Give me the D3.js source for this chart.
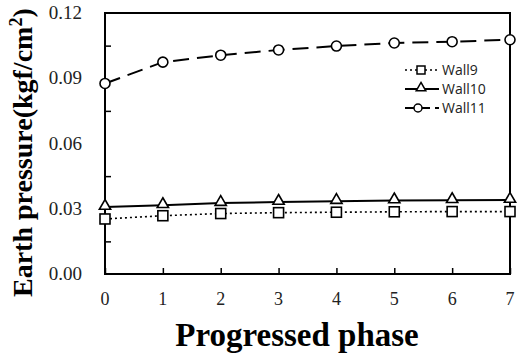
<!DOCTYPE html>
<html lang="en">
<head>
<meta charset="UTF-8">
<title>Earth pressure</title>
<style>
  body { margin: 0; background: #fff; }
  svg { display: block; }
</style>
</head>
<body>
<svg width="523" height="353"></svg>
<script src="https://d3js.org/d3.v7.min.js"></script>
<script>

let phases = [0, 1, 2, 3, 4, 5, 6, 7];
let wall9 = [0.0253, 0.0268, 0.0278, 0.0282, 0.0284, 0.0286, 0.0287, 0.0287];
let wall10 = [0.0308, 0.0316, 0.0326, 0.0331, 0.0335, 0.0338, 0.0339, 0.0340];
let wall11 = [0.0876, 0.0974, 0.1006, 0.1030, 0.1048, 0.1062, 0.1068, 0.1077];
let yTicks = [0, 0.03, 0.06, 0.09, 0.12];

let series = [
    {name: "Wall9", values: wall9, marker: "square", dash: "2,3"},
    {name: "Wall10", values: wall10, marker: "triangle", dash: null},
    {name: "Wall11", values: wall11, marker: "circle", dash: "16,8"}
];

let margin = {top: 13, right: 13, bottom: 79, left: 105},
    width = 523 - margin.left - margin.right,
    height = 353 - margin.top - margin.bottom;

let svg = d3.select("svg");
let chart = svg.append("g")
    .attr("transform", "translate(" + margin.left + "," + margin.top + ")");

let x = d3.scaleLinear().domain([0, 7]).range([0, width]);
let y = d3.scaleLinear().domain([0, 0.12]).range([height, 0]);

// inner ticks
chart.append("g")
    .attr("transform", "translate(0," + height + ")")
    .call(d3.axisBottom(x).tickValues(phases).tickSize(-6).tickFormat(""))
    .call(g => g.select(".domain").remove())
    .selectAll("line").attr("stroke", "#000").attr("stroke-width", 1.5);

chart.append("g")
    .call(d3.axisLeft(y).tickValues(d3.range(0.015, 0.12, 0.03)).tickSize(-6).tickFormat(""))
    .call(g => g.select(".domain").remove())
    .selectAll("line").attr("stroke", "#000").attr("stroke-width", 1.5);

// tick labels
chart.selectAll(".xl").data(phases).enter().append("text")
    .attr("x", d => x(d))
    .attr("y", height + 31)
    .attr("text-anchor", "middle")
    .style("font-family", "Liberation Serif, serif")
    .style("font-size", "18px")
    .attr("fill", "#222")
    .text(d => d);

chart.selectAll(".yl").data(yTicks).enter().append("text")
    .attr("x", -23)
    .attr("y", d => y(d) + 6)
    .attr("text-anchor", "end")
    .style("font-family", "Liberation Serif, serif")
    .style("font-size", "19px")
    .attr("fill", "#222")
    .text(d => d.toFixed(2));

// frame
chart.append("rect")
    .attr("width", width).attr("height", height)
    .attr("fill", "none").attr("stroke", "#000").attr("stroke-width", 2);

function drawMarker(g, type, cx, cy) {
    if (type === "square") {
        g.append("rect").attr("x", cx - 5).attr("y", cy - 5).attr("width", 10).attr("height", 10)
            .attr("fill", "#fff").attr("stroke", "#000").attr("stroke-width", 1.6);
    } else if (type === "triangle") {
        g.append("path")
            .attr("d", d3.symbol().type(d3.symbolTriangle).size(55)())
            .attr("transform", "translate(" + cx + "," + (cy - 1) + ")")
            .attr("fill", "#fff").attr("stroke", "#000").attr("stroke-width", 1.6);
    } else {
        g.append("circle").attr("cx", cx).attr("cy", cy).attr("r", 5)
            .attr("fill", "#fff").attr("stroke", "#000").attr("stroke-width", 1.6);
    }
}

let line = d3.line().x((d, i) => x(phases[i])).y(d => y(d));

series.forEach(s => {
    chart.append("path")
        .datum(s.values)
        .attr("d", line)
        .attr("fill", "none")
        .attr("stroke", "#000")
        .attr("stroke-width", s.dash === "2,3" ? 1.6 : 2)
        .attr("stroke-dasharray", s.dash);
    let g = chart.append("g");
    s.values.forEach((v, i) => drawMarker(g, s.marker, x(phases[i]), y(v)));
});

// legend
let legend = svg.append("g").attr("transform", "translate(405,70)");
series.forEach((s, i) => {
    let gy = i * 19;
    legend.append("line")
        .attr("x1", 0).attr("x2", 34).attr("y1", gy).attr("y2", gy)
        .attr("stroke", "#000")
        .attr("stroke-width", s.dash === "2,3" ? 1.6 : 2)
        .attr("stroke-dasharray", s.dash === "16,8" ? "10,5" : s.dash);
    let mg = legend.append("g");
    if (s.marker === "square") {
        mg.append("rect").attr("x", 12).attr("y", gy - 4).attr("width", 8).attr("height", 8)
            .attr("fill", "#fff").attr("stroke", "#000").attr("stroke-width", 1.5);
    } else if (s.marker === "triangle") {
        mg.append("path").attr("d", d3.symbol().type(d3.symbolTriangle).size(40)())
            .attr("transform", "translate(16," + (gy - 1) + ")")
            .attr("fill", "#fff").attr("stroke", "#000").attr("stroke-width", 1.5);
    } else {
        mg.append("circle").attr("cx", 13).attr("cy", gy).attr("r", 4)
            .attr("fill", "#fff").attr("stroke", "#000").attr("stroke-width", 1.5);
    }
    legend.append("text")
        .attr("x", 37).attr("y", gy + 5)
        .style("font-family", "Open Sans, sans-serif")
        .style("font-size", "14px")
        .attr("fill", "#222")
        .text(s.name);
});

// axis titles
svg.append("text")
    .attr("x", 297).attr("y", 346)
    .attr("text-anchor", "middle")
    .style("font-family", "Liberation Serif, serif")
    .style("font-weight", "bold")
    .style("font-size", "33px")
    .text("Progressed phase");

svg.append("text")
    .attr("transform", "translate(32,297) rotate(-90)")
    .attr("text-anchor", "start")
    .style("font-family", "Liberation Serif, serif")
    .style("font-weight", "bold")
    .style("font-size", "28px")
    .html("Earth pressure(kgf/cm<tspan dy='-10' font-size='18px'>2</tspan><tspan dy='10'>)</tspan>");

</script>
</body>
</html>
